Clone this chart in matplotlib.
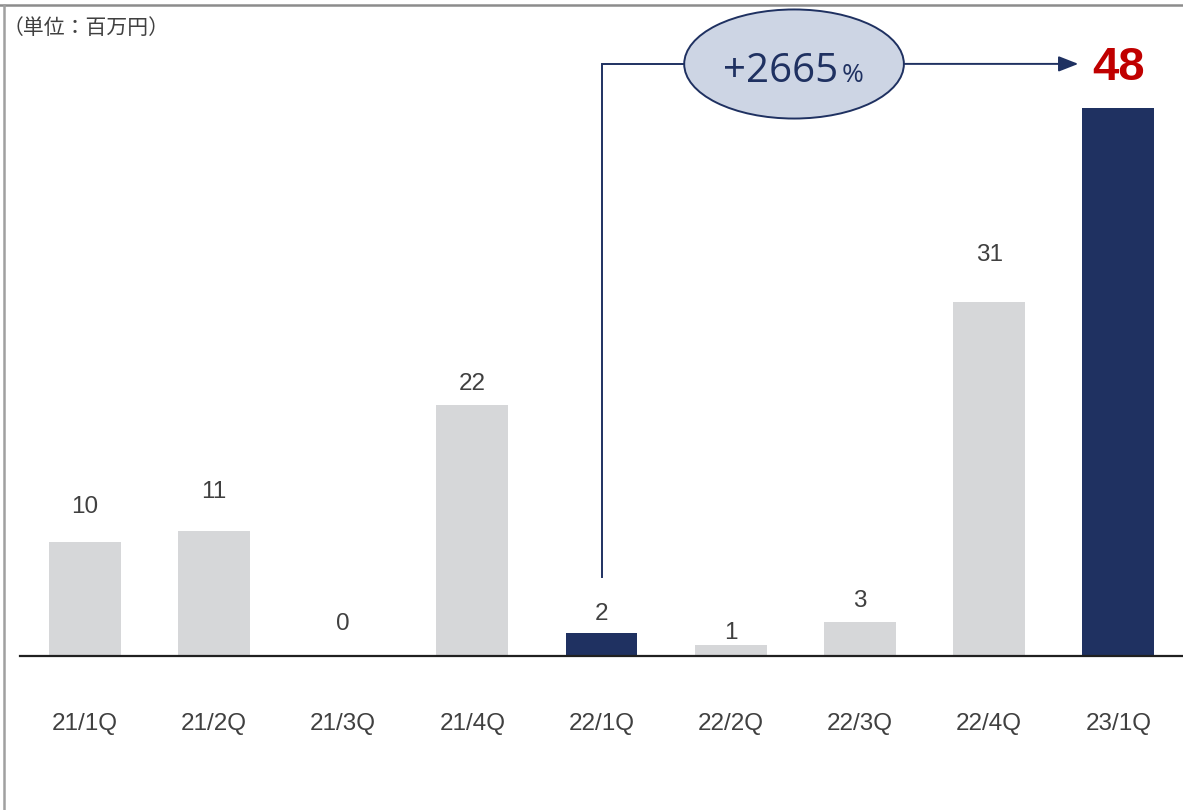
import matplotlib.pyplot as plt
from matplotlib.lines import Line2D
from matplotlib.patches import Ellipse

quarters = ["21/1Q", "21/2Q", "21/3Q", "21/4Q", "22/1Q", "22/2Q", "22/3Q", "22/4Q", "23/1Q"]
values = [10, 11, 0, 22, 2, 1, 3, 31, 48]
highlight = [False, False, False, False, True, False, False, False, True]
growth_label = "+2665"
unit_label = "（単位：百万円）"

GRAY = "#D6D7D9"
NAVY = "#1F3161"
TEXT = "#404040"
RED = "#C00000"

# value label offsets above each bar top, in points
label_pad = [25, 28, 23, 15, 14, 8, 15, 34]

fig = plt.figure(figsize=(11.83, 8.10), dpi=100)
ax = fig.add_axes([20 / 1183, 154 / 810, 1163 / 1183, 656 / 810])

x = range(len(quarters))
colors = [NAVY if h else GRAY for h in highlight]
ax.bar(x, values, width=0.556, color=colors, zorder=2)

ax.set_xlim(-0.5, 8.5)
ax.set_ylim(0, 57.5)
for s in ["top", "right", "left"]:
    ax.spines[s].set_visible(False)
ax.spines["bottom"].set_color("#202020")
ax.spines["bottom"].set_linewidth(1.6)
ax.set_yticks([])
ax.set_xticks(list(x))
ax.set_xticklabels(quarters, fontsize=17.5, color=TEXT, family="Liberation Sans")
ax.tick_params(axis="x", length=0, pad=41)

for i, v in enumerate(values[:-1]):
    ax.annotate(str(v), (i, v), xytext=(0, label_pad[i]), textcoords="offset points",
                ha="center", va="center", fontsize=17.5, color=TEXT,
                family="Liberation Sans")

# latest quarter stands out in red
ax.annotate(str(values[-1]), (8, values[-1]), xytext=(0, 29), textcoords="offset points",
            ha="center", va="center", fontsize=34, fontweight="bold", color=RED,
            family="Liberation Sans")

# growth callout: 22/1Q -> 23/1Q
line_y = 51.9
ax.plot([4, 4, 4.65], [6.93, line_y, line_y], color=NAVY, lw=1.4, zorder=3,
        solid_joinstyle="miter")
ax.annotate("", xy=(7.69, line_y), xytext=(6.3, line_y),
            arrowprops=dict(arrowstyle="-|>,head_length=1.2,head_width=0.47",
                            color=NAVY, lw=1.4, shrinkA=0, shrinkB=0), zorder=3)
ax.add_patch(Ellipse((5.49, 51.89), 1.70, 9.56, facecolor="#CDD5E4", edgecolor=NAVY,
                     lw=1.4, zorder=4, clip_on=False))
ax.text(5.83, 50.35, growth_label, ha="right", va="baseline", fontsize=29, color=NAVY,
        family="Open Sans", zorder=5)
ax.text(5.855, 50.35, "%", ha="left", va="baseline", fontsize=19, color=NAVY,
        family="Open Sans", zorder=5)

fig.text(3 / 1183, 1 - 28 / 810, unit_label, ha="left", va="center", fontsize=15,
         color=TEXT, family=["Noto Sans CJK JP", "DejaVu Sans"])

# slide frame on the top and left edges
fig.add_artist(Line2D([0, 1], [1 - 5 / 810] * 2, color="#8C8C8C", lw=1.8,
                      transform=fig.transFigure))
fig.add_artist(Line2D([4 / 1183] * 2, [0, 1 - 5 / 810], color="#A0A0A0", lw=1.8,
                      transform=fig.transFigure))

fig.savefig("out.png", dpi=100)
